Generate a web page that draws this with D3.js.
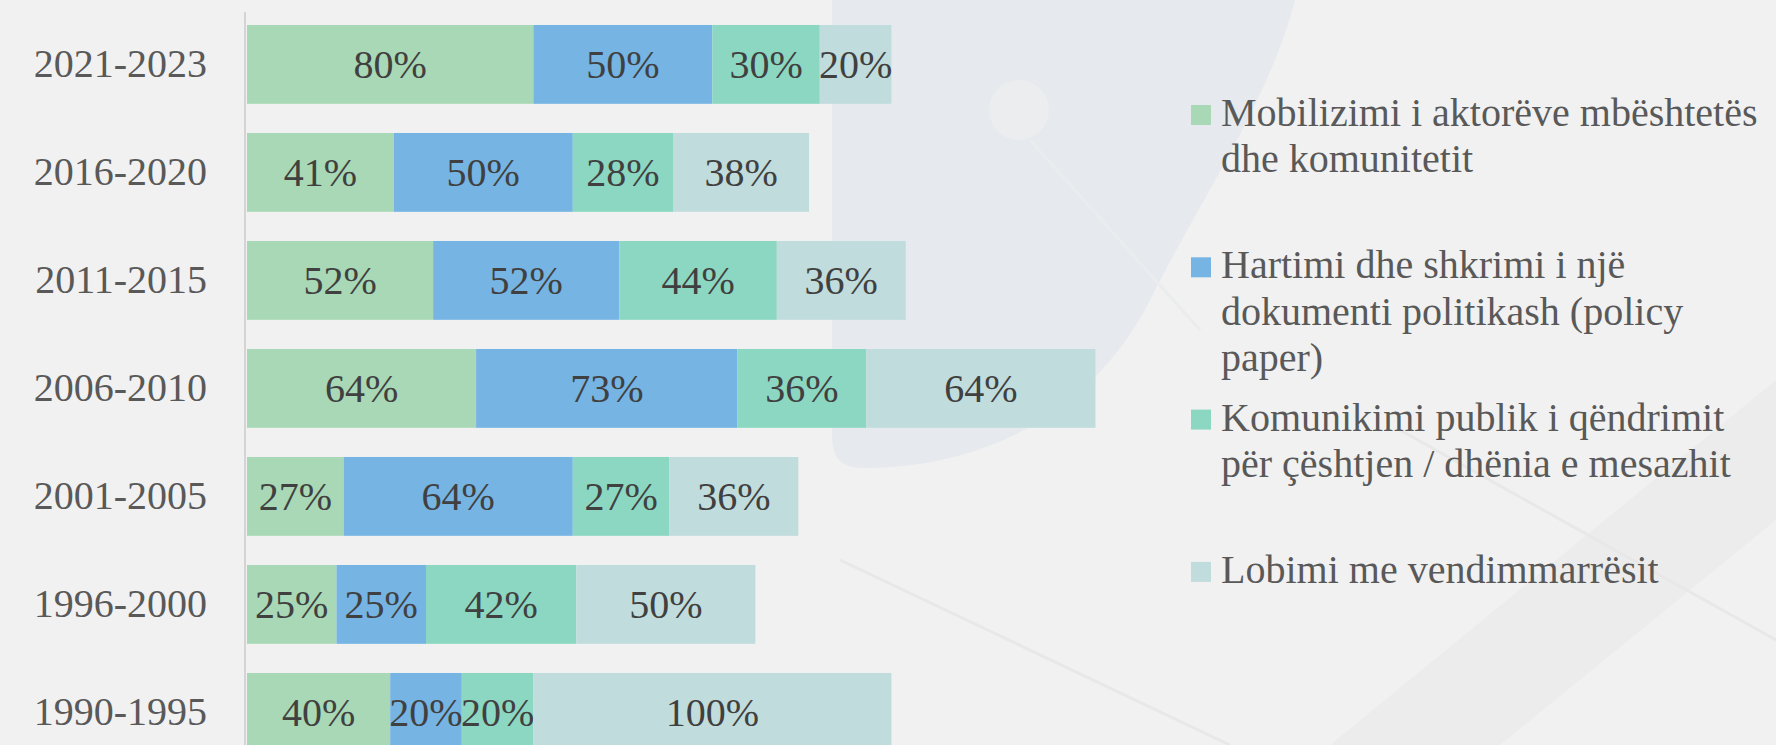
<!DOCTYPE html>
<html>
<head>
<meta charset="utf-8">
<script src="https://cdn.jsdelivr.net/npm/d3@7"></script>
<style>
    html, body { margin: 0; padding: 0; background: #f1f1f1; overflow: hidden; }
    svg { display: block; }
</style>
</head>
<body>
<svg id="chart"></svg>
<script>
let width = 1776;
let height = 745;

// periods, top to bottom
let periods = ["2021-2023", "2016-2020", "2011-2015", "2006-2010", "2001-2005", "1996-2000", "1990-1995"];

// series names (legend order = stacking order)
let seriesNames = [
    "Mobilizimi i aktorëve mbështetës dhe komunitetit",
    "Hartimi dhe shkrimi i një dokumenti politikash (policy paper)",
    "Komunikimi publik i qëndrimit për çështjen / dhënia e mesazhit",
    "Lobimi me vendimmarrësit"
];
let seriesColors = ["#a8d8b5", "#75b4e3", "#8cd7c2", "#c1dcdc"];

// values per series, in % (same order as periods)
let mobilizimi = [80, 41, 52, 64, 27, 25, 40];
let hartimi    = [50, 50, 52, 73, 64, 25, 20];
let komunikimi = [30, 28, 44, 36, 27, 42, 20];
let lobimi     = [20, 38, 36, 64, 36, 50, 100];

// build rows for d3.stack
let keys = ["mobilizimi", "hartimi", "komunikimi", "lobimi"];
let rows = periods.map((p, i) => ({
    period: p,
    mobilizimi: mobilizimi[i],
    hartimi: hartimi[i],
    komunikimi: komunikimi[i],
    lobimi: lobimi[i]
}));

let serif = '"Liberation Serif"';

let svg = d3.select("#chart")
    .attr("width", width)
    .attr("height", height);

// background
svg.append("rect")
    .attr("width", width)
    .attr("height", height)
    .attr("fill", "#f1f1f1");

// faint decoration behind the chart
let deco = svg.append("g");
deco.append("path")
    .attr("d", "M832,0 L832,438 Q832,468 862,468 C1000,468 1100,400 1150,300 C1200,200 1270,100 1295,0 Z")
    .attr("fill", "#e6eaee");
deco.append("circle")
    .attr("cx", 1019).attr("cy", 110).attr("r", 30)
    .attr("fill", "#ebedef");
deco.append("line")
    .attr("x1", 1030).attr("y1", 140).attr("x2", 1200).attr("y2", 330)
    .attr("stroke", "#eaecee").attr("stroke-width", 3);
deco.append("path")
    .attr("d", "M1330,745 L1776,380 L1776,520 L1500,745 Z")
    .attr("fill", "#e9e9e9")
    .attr("opacity", 0.6);
[[840, 560, 1230, 745], [1400, 430, 1776, 640]].forEach(l => {
    deco.append("line")
        .attr("x1", l[0]).attr("y1", l[1]).attr("x2", l[2]).attr("y2", l[3])
        .attr("stroke", "#e8e8e8").attr("stroke-width", 3);
});

// scales
let x = d3.scaleLinear()
    .domain([0, 250])
    .range([247, 247 + 250 * 3.58]);

let y = d3.scaleBand()
    .domain(periods)
    .range([10.4, 766.4])
    .paddingInner(0.27)
    .paddingOuter(0.135);

let stacked = d3.stack().keys(keys)(rows);

// bars
let layers = svg.append("g")
    .selectAll("g")
    .data(stacked)
    .enter().append("g")
        .attr("fill", (d, i) => seriesColors[i]);

layers.selectAll("rect")
    .data(d => d)
    .enter().append("rect")
        .attr("x", d => x(d[0]))
        .attr("y", d => y(d.data.period))
        .attr("width", d => x(d[1]) - x(d[0]))
        .attr("height", y.bandwidth());

// value labels
layers.selectAll("text")
    .data(d => d)
    .enter().append("text")
        .attr("x", d => (x(d[0]) + x(d[1])) / 2)
        .attr("y", d => y(d.data.period) + y.bandwidth() / 2)
        .attr("dy", "0.34em")
        .attr("text-anchor", "middle")
        .style("font-family", serif)
        .style("font-size", "40px")
        .attr("fill", "#404040")
        .text(d => (d[1] - d[0]) + "%");

// category axis
let axis = svg.append("g")
    .attr("transform", "translate(245,0)")
    .call(d3.axisLeft(y).tickSize(0).tickPadding(38));

axis.select(".domain")
    .attr("d", "M0,12V745")
    .attr("stroke", "#d4d4d4")
    .attr("stroke-width", 2);

axis.selectAll("text")
    .style("font-family", serif)
    .style("font-size", "40px")
    .attr("fill", "#595959");

// legend
let legendX = 1191;
let legendTop = 126;
let legendStep = 152.3;
let lineHeight = 46.3;
let wrapWidth = 560;

let legend = svg.append("g")
    .attr("fill", "#595959");

seriesNames.forEach((name, i) => {
    let base = legendTop + i * legendStep;
    legend.append("rect")
        .attr("x", legendX)
        .attr("y", base - 21)
        .attr("width", 20)
        .attr("height", 20)
        .attr("fill", seriesColors[i]);

    // simple word wrap
    let text = legend.append("text")
        .attr("x", legendX + 30)
        .attr("y", base)
        .style("font-family", serif)
        .style("font-size", "40px");
    let words = name.split(" ");
    let line = [];
    let lineNo = 0;
    let tspan = text.append("tspan").attr("x", legendX + 30).attr("y", base);
    words.forEach(w => {
        line.push(w);
        tspan.text(line.join(" "));
        if (tspan.node().getComputedTextLength() > wrapWidth && line.length > 1) {
            line.pop();
            tspan.text(line.join(" "));
            line = [w];
            lineNo++;
            tspan = text.append("tspan")
                .attr("x", legendX + 30)
                .attr("y", base + lineNo * lineHeight)
                .text(w);
        }
    });
});
</script>
</body>
</html>
